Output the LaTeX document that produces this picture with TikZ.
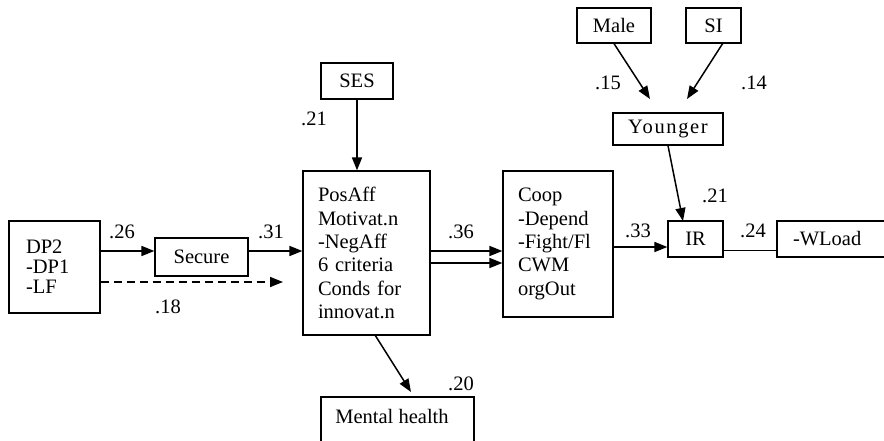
\documentclass[tikz,border=0pt]{standalone}
\usepackage{fontspec}
\setmainfont{Liberation Serif}
\usetikzlibrary{arrows.meta}

\begin{document}
\begin{tikzpicture}[x=1pt,y=-1pt,
  box/.style={draw, line width=1.2pt, inner sep=0pt,
    font=\fontsize{20.5}{23.3}\selectfont},
  listbox/.style={box, align=left},
  lbl/.style={font=\fontsize{20.5}{23}\selectfont, anchor=base, inner sep=0pt},
  arr/.style={line width=1.5pt, -{Triangle[length=13pt,width=10pt]}},
  dasharr/.style={arr, dash pattern=on 8pt off 5pt}]

\useasboundingbox (0,0) rectangle (884,441);
\clip (0,0) rectangle (884,441);

% boxes
\node[listbox, minimum width=91pt, minimum height=92pt, inner xsep=17pt,
  text width=57pt, font=\fontsize{20.5}{19.8}\selectfont] (dp2) at (54.5,267)
  {DP2\\-DP1\\-LF};
\node[box, minimum width=93pt, minimum height=38pt] (secure) at (201.5,257) {Secure};
\node[box, minimum width=72pt, minimum height=36pt] (ses) at (357,81) {SES};
\node[listbox, minimum width=127pt, minimum height=164pt, inner xsep=15pt,
  text width=97pt] (posaff) at (366.5,253)
  {PosAff\\Motivat.n\\-NegAff\\6 criteria\\Conds for\\innovat.n};
\node[listbox, minimum width=110pt, minimum height=146pt, inner xsep=15pt,
  text width=80pt] (coop) at (558,244)
  {Coop\\-Depend\\-Fight/Fl\\CWM\\orgOut};
\node[box, minimum width=74pt, minimum height=35pt] (male) at (614,25.5) {Male};
\node[box, minimum width=55pt, minimum height=35pt] (si) at (713.5,25.5) {SI};
\node[box, minimum width=110pt, minimum height=32pt] (younger) at (668,129)
  {\addfontfeature{LetterSpace=8}Younger};
\node[box, minimum width=55pt, minimum height=36pt] (ir) at (695.5,239) {IR};
\node[listbox, minimum width=130pt, minimum height=36pt, inner xsep=16pt,
  text width=98pt] (wload) at (842,239) {-WLoad};
\node[box, minimum width=153pt, minimum height=70pt] (mh) at (397.5,432) {};
\node[lbl] (mhtext) at (392,423) {Mental health};

% row and end coordinates
\coordinate (r1) at (0,251);
\coordinate (r2) at (0,282);
\coordinate (r3) at (0,247);
\coordinate (r4) at (0,250);
\coordinate (c1) at (0,263);
\coordinate (dashend) at (283,282);
\coordinate (maleend) at (650,99);
\coordinate (sistart) at (723,43);
\coordinate (siend) at (687,99);
\coordinate (irtop) at (683,221);
\coordinate (mhstart) at (375,335);
\coordinate (mhend) at (411,392);

% connectors
\draw[arr] (dp2.east |- r1) -- (secure.west |- r1);
\draw[dasharr] (dp2.east |- r2) -- (dashend);
\draw[arr] (secure.east |- r1) -- (posaff.west |- r1);
\draw[arr] (ses.south) -- (ses.south |- posaff.north);
\draw[arr] (posaff.east |- r1) -- (coop.west |- r1);
\draw[arr] (posaff.east |- c1) -- (coop.west |- c1);
\draw[arr] (coop.east |- r3) -- (ir.west |- r3);
\draw[line width=1pt] (ir.east |- r4) -- (wload.west |- r4);
\draw[arr] (male.south) -- (maleend);
\draw[arr] (sistart) -- (siend);
\draw[arr] (younger.south) -- (irtop);
\draw[arr] (mhstart) -- (mhend);

% path coefficients
\node[lbl] (l26) at (122,238) {.26};
\node[lbl] (l31) at (271,238) {.31};
\node[lbl] (l18) at (168,313) {.18};
\node[lbl] (l21a) at (314,126) {.21};
\node[lbl] (l36) at (461,238) {.36};
\node[lbl] (l15) at (608,90) {.15};
\node[lbl] (l14) at (754,90) {.14};
\node[lbl] (l21b) at (715,203) {.21};
\node[lbl] (l33) at (638,237) {.33};
\node[lbl] (l24) at (753,237) {.24};
\node[lbl] (l20) at (461,390) {.20};
\end{tikzpicture}
\end{document}
